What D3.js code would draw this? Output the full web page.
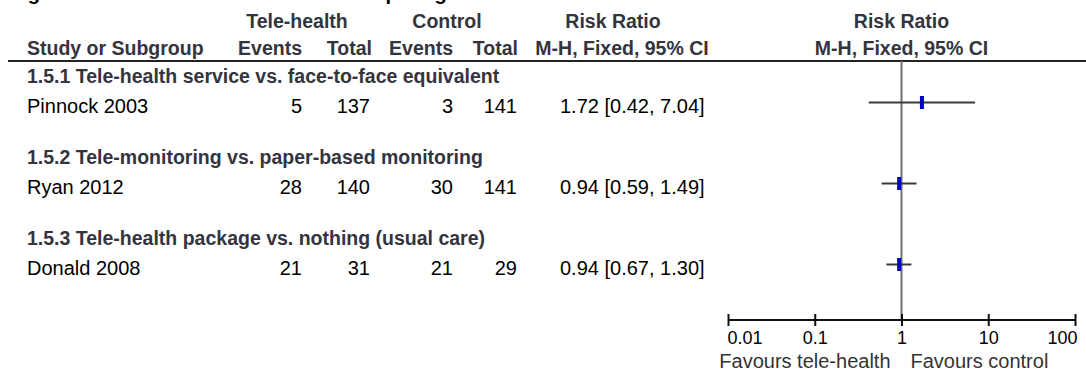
<!DOCTYPE html>
<html><head><meta charset="utf-8">
<script src="https://cdn.jsdelivr.net/npm/d3@7"></script>
<style>
html,body{margin:0;padding:0;background:#fff;}
svg{display:block;font-family:"Liberation Sans",Arial,sans-serif;}
</style></head>
<body><svg id="c" width="1086" height="371"></svg>
<script>
// ---- data ----
const titleText = "Figure 5. Risk ratio of the outcome comparing tele-health with control";
const subgroups = ["1.5.1 Tele-health service vs. face-to-face equivalent",
                   "1.5.2 Tele-monitoring vs. paper-based monitoring",
                   "1.5.3 Tele-health package vs. nothing (usual care)"];
const studies = ["Pinnock 2003", "Ryan 2012", "Donald 2008"];
const teleEvents = [5, 28, 21];
const teleTotal = [137, 140, 31];
const ctrlEvents = [3, 30, 21];
const ctrlTotal = [141, 141, 29];
const rr = [1.72, 0.94, 0.94];
const rrLow = [0.42, 0.59, 0.67];
const rrHigh = [7.04, 1.49, 1.30];
const tickValues = [0.01, 0.1, 1, 10, 100];
const tickLabels = ["0.01", "0.1", "1", "10", "100"];
const favours = ["Favours tele-health", "Favours control"];

// ---- layout ----
const svg = d3.select("#c");
const x = d3.scaleLog().domain([0.01, 100]).range([728, 1075]);
const yGroup = d3.scaleLinear().domain([0, 2]).range([83, 245]);
const studyOffset = 30;
const headColor = "#34343e";
const axisY = 320;

// title sliver
svg.append("text").attr("x", 10).attr("y", 0)
  .attr("font-size", 20).attr("font-weight", "bold").attr("fill", "#000")
  .text(titleText);

// headers
const hdr = (t, xx, yy, anchor) => svg.append("text").attr("x", xx).attr("y", yy)
  .attr("text-anchor", anchor).attr("font-size", 19.5).attr("font-weight", "bold")
  .attr("fill", headColor).text(t);
hdr("Tele-health", 297, 28, "middle");
hdr("Control", 447, 28, "middle");
hdr("Risk Ratio", 613, 28, "middle");
hdr("Risk Ratio", x(1), 28, "middle");
hdr("Study or Subgroup", 27, 55, "start");
hdr("Events", 302, 55, "end");
hdr("Total", 372, 55, "end");
hdr("Events", 453, 55, "end");
hdr("Total", 518, 55, "end");
hdr("M-H, Fixed, 95% CI", 622, 55, "middle");
hdr("M-H, Fixed, 95% CI", x(1), 55, "middle");

// header rule
svg.append("line").attr("x1", 8).attr("x2", 1086).attr("y1", 61).attr("y2", 61)
  .attr("stroke", "#222").attr("stroke-width", 2);

// null line
svg.append("line").attr("x1", x(1)).attr("x2", x(1)).attr("y1", 61).attr("y2", axisY)
  .attr("stroke", "#707070").attr("stroke-width", 2);

// subgroup headings
svg.selectAll("text.sg").data(subgroups).join("text").attr("class", "sg")
  .attr("x", 27).attr("y", (d, i) => yGroup(i))
  .attr("font-size", 19.5).attr("font-weight", "bold").attr("fill", headColor)
  .text(d => d);

// study rows
const fmt = d3.format(".2f");
const rows = studies.map((s, i) => ({s, i}));
const cell = (cls, xx, anchor, f) => svg.selectAll("text." + cls).data(rows).join("text")
  .attr("class", cls).attr("x", xx).attr("y", d => yGroup(d.i) + studyOffset)
  .attr("text-anchor", anchor).attr("font-size", 20).attr("fill", "#000").text(f);
cell("st", 27, "start", d => d.s);
cell("te", 302, "end", d => teleEvents[d.i]);
cell("tt", 370, "end", d => teleTotal[d.i]);
cell("ce", 453, "end", d => ctrlEvents[d.i]);
cell("ct", 517, "end", d => ctrlTotal[d.i]);
cell("rr", 560, "start", d => `${fmt(rr[d.i])} [${fmt(rrLow[d.i])}, ${fmt(rrHigh[d.i])}]`);

// CIs
svg.selectAll("line.ci").data(rows).join("line").attr("class", "ci")
  .attr("x1", d => x(rrLow[d.i])).attr("x2", d => x(rrHigh[d.i]))
  .attr("y1", d => yGroup(d.i) + studyOffset - 10.5).attr("y2", d => yGroup(d.i) + studyOffset - 10.5)
  .attr("stroke", "#3a3a3a").attr("stroke-width", 2);
svg.selectAll("rect.pt").data(rows).join("rect").attr("class", "pt")
  .attr("x", d => x(rr[d.i]) - 2).attr("width", 4)
  .attr("y", d => yGroup(d.i) + studyOffset - 17).attr("height", 13)
  .attr("fill", "#0000c8");

// axis
const ax = svg.append("g").attr("transform", `translate(0,${axisY})`)
  .call(d3.axisBottom(x).tickValues(tickValues).tickSize(6).tickFormat((d, i) => tickLabels[i]));
ax.select(".domain").attr("stroke", "#111").attr("stroke-width", 2)
  .attr("d", `M${x(0.01)},0H${x(100)}`);
ax.selectAll(".tick line").attr("y1", -6).attr("y2", 6).attr("stroke", "#111").attr("stroke-width", 2);
ax.selectAll(".tick text").attr("y", 24).attr("dy", null)
  .attr("font-size", 18).attr("font-family", "Liberation Sans, Arial, sans-serif").attr("fill", "#000")
  .attr("text-anchor", (d, i) => i === 0 ? "start" : (i === tickValues.length - 1 ? "end" : "middle"))
  .attr("dx", (d, i) => i === 0 ? -1 : (i === tickValues.length - 1 ? 2 : 0));

// favours
svg.append("text").attr("x", x(1) - 11).attr("y", 368).attr("text-anchor", "end")
  .attr("font-size", 20).attr("fill", "#333").text(favours[0]);
svg.append("text").attr("x", x(1) + 9).attr("y", 368).attr("text-anchor", "start")
  .attr("font-size", 20).attr("fill", "#333").text(favours[1]);
</script></body></html>
